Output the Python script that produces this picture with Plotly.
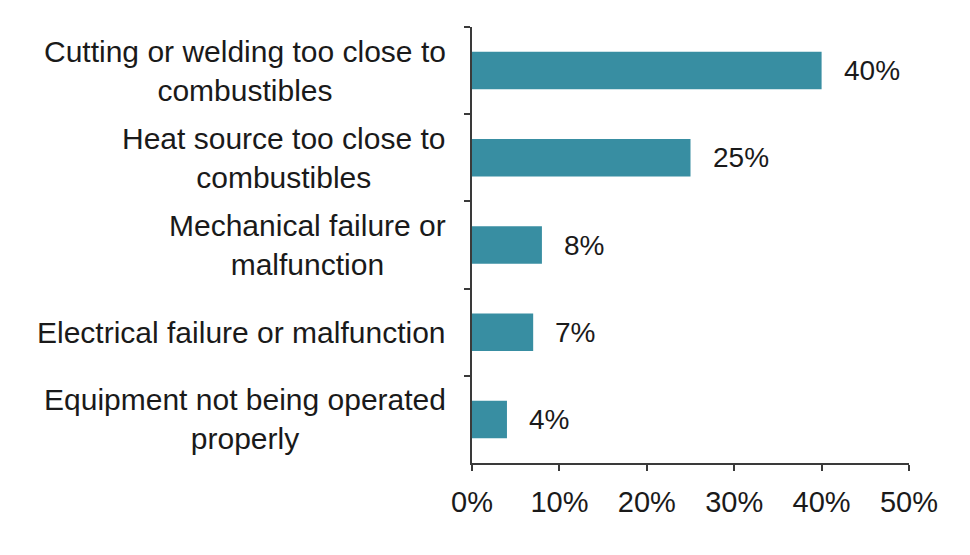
import plotly.graph_objects as go

categories = [
    "Cutting or welding too close to<br>combustibles",
    "Heat source too close to<br>combustibles",
    "Mechanical failure or<br>malfunction",
    "Electrical failure or malfunction",
    "Equipment not being operated<br>properly",
]
values = [40, 25, 8, 7, 4]
value_labels = ["40%", "25%", "8%", "7%", "4%"]
x_ticks = [0, 10, 20, 30, 40, 50]
x_tick_labels = ["0%", "10%", "20%", "30%", "40%", "50%"]

bar_color = "#388ea2"
text_color = "#1a1a1a"
axis_color = "#3a3a3a"
font_family = "Liberation Sans, Arial, sans-serif"

fig = go.Figure()
fig.add_trace(go.Bar(
    x=values,
    y=categories,
    orientation="h",
    marker=dict(color=bar_color, line=dict(width=0)),
    width=0.43,
    hoverinfo="skip",
))

for v, c, lab in zip(values, categories, value_labels):
    fig.add_annotation(
        x=v, y=c, text=lab, showarrow=False,
        xanchor="left", xshift=20,
        font=dict(size=28, color=text_color, family=font_family),
    )

for c in categories:
    fig.add_annotation(
        x=0, xref="paper", y=c, yref="y", text=c, showarrow=False,
        xanchor="right", align="center", xshift=-24,
        font=dict(size=30, color=text_color, family=font_family),
    )

fig.update_layout(
    width=970, height=555,
    margin=dict(l=472, r=61, t=27, b=92),
    plot_bgcolor="white", paper_bgcolor="white",
    showlegend=False,
    font=dict(family=font_family, size=28, color=text_color),
    xaxis=dict(
        range=[0, 50],
        tickvals=x_ticks, ticktext=x_tick_labels,
        showgrid=False, zeroline=False,
        showline=True, linecolor=axis_color, linewidth=2,
        ticks="outside", ticklen=6, tickwidth=2, tickcolor=axis_color,
        ticklabelstandoff=6,
        tickfont=dict(size=29, color=text_color),
        fixedrange=True,
    ),
    yaxis=dict(
        autorange="reversed",
        showgrid=False, zeroline=False,
        showline=True, linecolor=axis_color, linewidth=2,
        ticks="outside", ticklen=6, tickwidth=2, tickcolor=axis_color,
        tickson="boundaries",
        showticklabels=False,
        fixedrange=True,
    ),
)

fig.write_html("out.html")
